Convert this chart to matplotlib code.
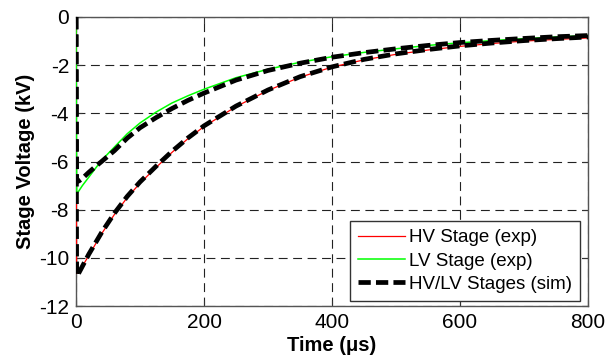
import matplotlib
matplotlib.use("Agg")
import matplotlib.pyplot as plt

# time axis (microseconds)
time_us = [0, 1, 5, 10, 20, 30, 40, 60, 80, 100, 125, 150, 175, 200,
           250, 300, 350, 400, 450, 500, 550, 600, 650, 700, 750, 800]

hv_exp = [0, -10.65, -10.55, -10.35, -9.9, -9.45, -9.0, -8.2, -7.5, -6.9,
          -6.25, -5.62, -5.05, -4.55, -3.72, -3.05, -2.5, -2.08, -1.78,
          -1.55, -1.37, -1.22, -1.1, -1.0, -0.93, -0.87]

lv_exp = [0, -7.35, -7.2, -7.0, -6.65, -6.3, -5.95, -5.4, -4.85, -4.4,
          -3.95, -3.57, -3.27, -3.0, -2.52, -2.17, -1.88, -1.65, -1.47,
          -1.32, -1.18, -1.07, -0.98, -0.9, -0.83, -0.77]

hv_sim = [0, -10.75, -10.6, -10.35, -9.85, -9.4, -8.95, -8.15, -7.45, -6.85,
          -6.2, -5.58, -5.02, -4.52, -3.7, -3.03, -2.48, -2.07, -1.76,
          -1.53, -1.35, -1.2, -1.08, -0.98, -0.9, -0.83]

lv_sim = [0, -6.85, -6.8, -6.7, -6.45, -6.22, -6.0, -5.55, -5.03, -4.6,
          -4.18, -3.8, -3.46, -3.16, -2.62, -2.22, -1.92, -1.67, -1.48,
          -1.32, -1.18, -1.06, -0.97, -0.89, -0.82, -0.77]

x_ticks = [0, 200, 400, 600, 800]
y_ticks = [-12, -10, -8, -6, -4, -2, 0]
labels = ["HV Stage (exp)", "LV Stage (exp)", "HV/LV Stages (sim)"]

plt.rcParams['font.family'] = ['Liberation Sans', 'DejaVu Sans']
plt.rcParams['axes.unicode_minus'] = False

fig = plt.figure(figsize=(6.06, 3.6), dpi=100)
ax = fig.add_axes([76/606, 54/360, 512/606, 289/360])

ax.plot(time_us, hv_exp, color='#ff0000', lw=0.9, label=labels[0], zorder=3)
ax.plot(time_us, lv_exp, color='#00ff00', lw=1.1, label=labels[1], zorder=3)
dash = (0, (2.6, 1.1))
ax.plot(time_us, hv_sim, color='black', lw=3.4, linestyle=dash,
        dash_capstyle='butt', label=labels[2], zorder=4)
ax.plot(time_us, lv_sim, color='black', lw=3.4, linestyle=dash,
        dash_capstyle='butt', zorder=4)

ax.set_xlim(0, 800)
ax.set_ylim(-12, 0)
ax.set_xticks(x_ticks)
ax.set_yticks(y_ticks)
ax.tick_params(direction='in', length=4, width=0.8, top=True, right=True,
               labelsize=15, pad=5, colors='#333333', labelcolor='black')
ax.grid(True, color='#222222', lw=0.8, linestyle=(0, (8, 5)))
for s in ax.spines.values():
    s.set_color('#555555')
    s.set_linewidth(1.0)

ax.set_xlabel('Time (\u03bcs)', fontsize=14.5, fontweight='bold', labelpad=3)
ax.set_ylabel('Stage Voltage (kV)', fontsize=14.5, fontweight='bold', labelpad=3)

leg = ax.legend(loc='lower right', bbox_to_anchor=(0.984, 0.018),
                fontsize=13.5, handlelength=2.5, handletextpad=0.2,
                labelspacing=0.33, borderpad=0.42, fancybox=False,
                framealpha=1, edgecolor='#333333', borderaxespad=0)
leg.get_frame().set_linewidth(1.0)

fig.savefig('out.png', dpi=100)
